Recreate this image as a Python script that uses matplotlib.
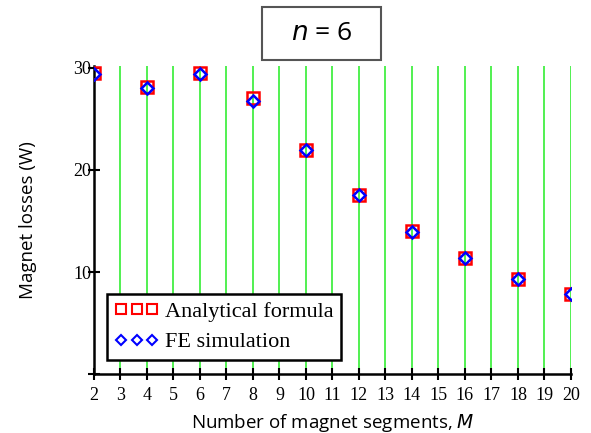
import matplotlib
matplotlib.use("Agg")
import matplotlib.pyplot as plt
from matplotlib.lines import Line2D

segments = [2, 4, 6, 8, 10, 12, 14, 16, 18, 20]
analytical = [29.45, 28.1, 29.45, 27.0, 21.95, 17.5, 14.0, 11.4, 9.3, 7.8]
fe_sim = [29.4, 28.05, 29.4, 26.8, 21.95, 17.5, 13.95, 11.4, 9.3, 7.8]
x_ticks = list(range(2, 21))
y_ticks = [0, 10, 20, 30]
y_tick_labels = ["", "10", "20", "30"]

fig = plt.figure(figsize=(5.91, 4.33), dpi=100)
ax = fig.add_axes([0.159, 0.136, 0.807, 0.712])

for xv in x_ticks[1:]:
    ax.axvline(xv, color="#33ee33", lw=1.2, zorder=1)

ax.plot(segments, analytical, ls="none", marker="s", ms=9, mfc="none",
        mec="#ff0000", mew=1.8, zorder=3, label="Analytical formula")
ax.plot(segments, fe_sim, ls="none", marker="D", ms=6, mfc="none",
        mec="#0000ff", mew=1.8, zorder=4, label="FE simulation")

ax.set_xlim(2, 20)
ax.set_ylim(0, 30.2)
ax.set_xticks(x_ticks)
ax.set_xticklabels([str(v) for v in x_ticks], family="Liberation Serif", fontsize=13)
ax.set_yticks(y_ticks)
ax.set_yticklabels(y_tick_labels, family="Liberation Serif", fontsize=13)
ax.tick_params(direction="inout", length=8, width=1.5, colors="black")
ax.tick_params(axis="x", pad=5)
ax.tick_params(axis="y", pad=-2)

for s in ["top", "right"]:
    ax.spines[s].set_visible(False)
for s in ["left", "bottom"]:
    ax.spines[s].set_linewidth(1.8)

ax.set_ylabel("Magnet losses (W)", family="Open Sans", fontsize=13.5, labelpad=26)
ax.set_xlabel("Number of magnet segments, $\\mathit{M}$", family="Open Sans",
              fontsize=13.5, labelpad=6)

handles = [
    Line2D([], [], ls="none", marker="s", ms=7, mfc="none", mec="#ff0000", mew=1.5),
    Line2D([], [], ls="none", marker="D", ms=5, mfc="none", mec="#0000ff", mew=1.5),
]
leg = ax.legend(handles, ["Analytical formula", "FE simulation"], numpoints=3,
                loc="lower left", bbox_to_anchor=(0.027, 0.045),
                prop={"family": "Liberation Serif", "size": 16},
                frameon=True, fancybox=False, edgecolor="black",
                framealpha=1, handletextpad=0.25, borderpad=0.35,
                labelspacing=0.45, handlelength=2.0, borderaxespad=0)
leg.get_frame().set_linewidth(1.8)
leg.set_zorder(10)

fig.patches.append(plt.Rectangle((262/591, 1-60/433), (381-262)/591, 53/433,
                                 transform=fig.transFigure, fill=False,
                                 ec="#555555", lw=1.5))
fig.text(321.5/591, 1-34/433, "$\\mathit{n}$ = 6", ha="center", va="center",
         family="Open Sans", fontsize=19)

fig.savefig("out.png", dpi=100)
